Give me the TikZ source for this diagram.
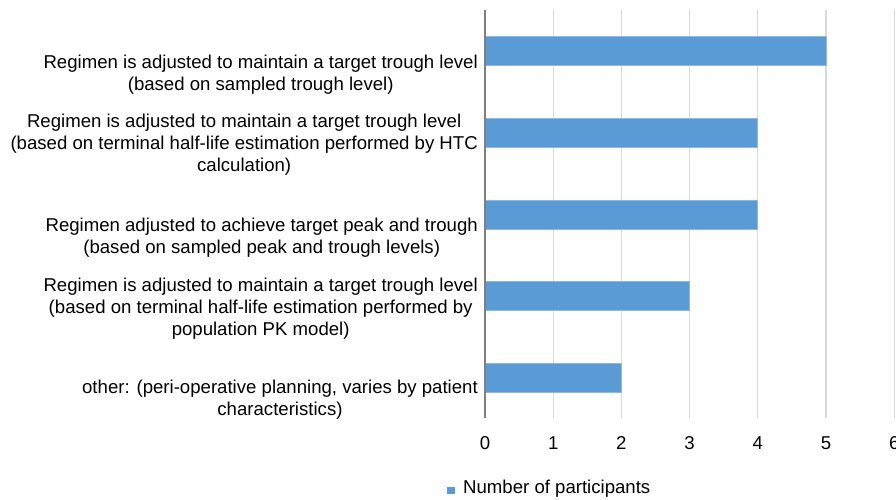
\documentclass[tikz,border=0pt]{standalone}
\usepackage{fontspec}
\setmainfont{Liberation Sans}
\definecolor{barblue}{HTML}{5B9BD5}
\definecolor{gridgray}{HTML}{D9D9D9}
\definecolor{axisgray}{HTML}{7F7F7F}
\begin{document}
\begin{tikzpicture}[x=1pt,y=-1pt,
  lbl/.style={anchor=east,align=center,inner sep=0pt,font=\fontsize{18.6}{22}\selectfont},
  tick/.style={inner sep=0pt,font=\fontsize{18.6}{22}\selectfont},
  bar/.style={fill=barblue,draw=barblue!70!white,line width=0.8pt},
  gridl/.style={draw=gridgray,line width=1.2pt},
  axisl/.style={draw=axisgray,line width=1.6pt}]
\useasboundingbox (0,0) rectangle (896,500);
\fill[white] (0,0) rectangle (896,500);
% gridlines
\foreach \k in {1,...,6}{
  \draw[gridl] ({485+68.2*\k},10) -- ({485+68.2*\k},418);
}
% bars
\coordinate (o1) at (485,36);
\coordinate (o2) at (485,118);
\coordinate (o3) at (485,200);
\coordinate (o4) at (485,281);
\coordinate (o5) at (485,363);
\path[bar] (o1) rectangle ++(341,29.5);
\path[bar] (o2) rectangle ++(272.8,29.5);
\path[bar] (o3) rectangle ++(272.8,29.5);
\path[bar] (o4) rectangle ++(204.6,29.5);
\path[bar] (o5) rectangle ++(136.4,29.5);
% axis
\coordinate (atop) at (485,10);
\coordinate (abot) at (485,418);
\draw[axisl] (atop) -- (abot);
% labels
\node[lbl] (l1) at (478,75) {Regimen is adjusted to maintain a target trough level\\(based on sampled trough level)};
\node[lbl] (l2) at (478,145) {Regimen is adjusted to maintain a target trough level\\(based on terminal half-life estimation performed by HTC\\calculation)};
\node[lbl] (l3) at (478,238) {Regimen adjusted to achieve target peak and trough\\(based on sampled peak and trough levels)};
\node[lbl] (l4) at (478,309) {Regimen is adjusted to maintain a target trough level\\(based on terminal half-life estimation performed by\\population PK model)};
\node[lbl] (l5) at (478,400) {other: (peri-operative planning, varies by patient\\characteristics)};
% tick labels
\foreach \k in {0,...,6}{
  \node[tick] (t\k) at ({485+68.2*\k},443) {\k};
}
% legend
\fill[barblue] (447,487) rectangle (455,494);
\node[tick,anchor=west] (leg) at (463,489) {Number of participants};
\end{tikzpicture}
\end{document}
